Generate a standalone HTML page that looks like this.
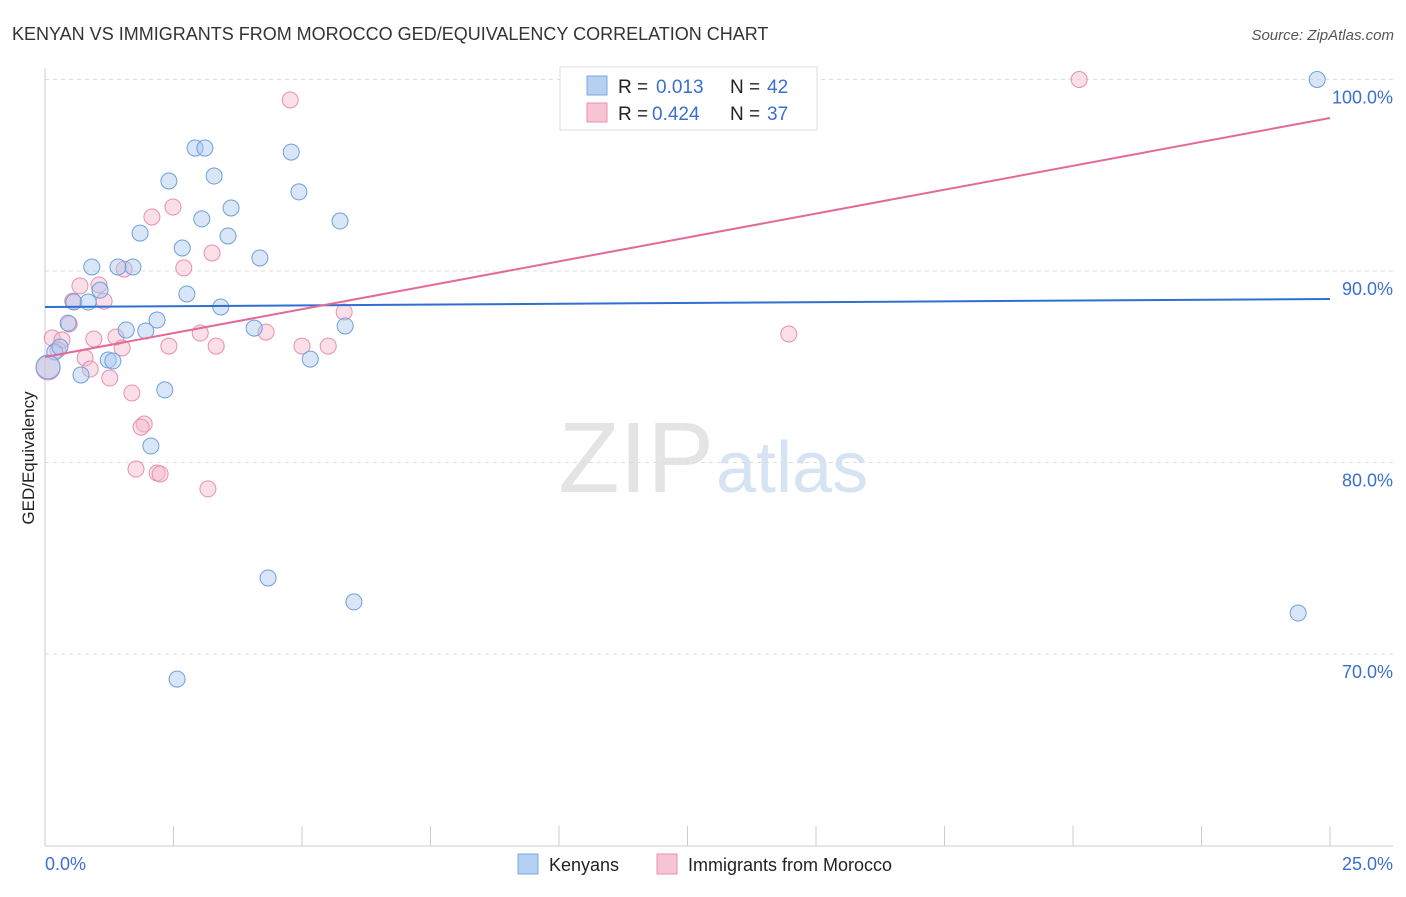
<!DOCTYPE html>
<html><head><meta charset="utf-8">
<style>
body{margin:0;background:#fff;font-family:"Liberation Sans",sans-serif;}
svg text{font-family:"Liberation Sans",sans-serif;}
</style></head>
<body>
<svg id="chart" width="1406" height="892" xmlns="http://www.w3.org/2000/svg">
<text x="12" y="40" font-size="18" fill="#333">KENYAN VS IMMIGRANTS FROM MOROCCO GED/EQUIVALENCY CORRELATION CHART</text>
<text x="1394" y="40" font-size="15" fill="#555" font-style="italic" text-anchor="end">Source: ZipAtlas.com</text>
<text x="714" y="492" font-size="100" fill="#e4e4e4" font-family="Liberation Serif" text-anchor="end">ZIP</text>
<text x="716" y="492" font-size="72" fill="#d6e3f3">atlas</text>
<g id="grid"></g>
<g id="axes"></g>
<g id="marks"></g>
<text transform="translate(34,458) rotate(-90)" font-size="17" fill="#222" text-anchor="middle">GED/Equivalency</text>
<g>
<rect x="560" y="67" width="257" height="63" fill="#fff" stroke="#ddd"/>
<rect x="587" y="76" width="20" height="19" fill="#b6d0f2" stroke="#7aa8e0"/>
<text x="618" y="93" font-size="19" fill="#222">R = </text><text x="656" y="93" font-size="19" fill="#3b6fcf">0.013</text>
<text x="730" y="93" font-size="19" fill="#222">N = </text><text x="767" y="93" font-size="19" fill="#3b6fcf">42</text>
<rect x="587" y="103" width="20" height="19" fill="#f8c4d4" stroke="#e890ae"/>
<text x="618" y="120" font-size="19" fill="#222">R = </text><text x="652" y="120" font-size="19" fill="#3b6fcf">0.424</text>
<text x="730" y="120" font-size="19" fill="#222">N = </text><text x="767" y="120" font-size="19" fill="#3b6fcf">37</text>
</g>
<g>
<rect x="518" y="854" width="20" height="20" fill="#b6d0f2" stroke="#7aa8e0"/>
<text x="549" y="871" font-size="18" fill="#222">Kenyans</text>
<rect x="657" y="854" width="20" height="20" fill="#f8c4d4" stroke="#e890ae"/>
<text x="688" y="871" font-size="18" fill="#222">Immigrants from Morocco</text>
</g>
</svg>
<script>
const yTicks=[100,90,80,70];
const yTickLabels=["100.0%","90.0%","80.0%","70.0%"];
const xTicks=[0,2.5,5,7.5,10,12.5,15,17.5,20,22.5,25];
const xTickLabels=["0.0%","25.0%"];
const blueX=[10.35,24.75,2.92,3.11,4.79,2.41,3.29,4.94,3.62,3.05,5.74,1.85,3.56,2.67,4.18,0.91,1.71,1.42,2.76,1.07,0.56,0.84,3.42,0.45,2.18,1.58,1.96,4.07,5.84,0.19,0.29,1.23,1.32,5.16,0.70,0.06,2.33,2.06,4.34,6.01,24.38,2.57];
const blueY=[100,100,96.42,96.42,96.21,94.70,94.96,94.13,93.29,92.72,92.61,91.98,91.83,91.20,90.68,90.21,90.21,90.21,88.80,89.0,88.38,88.38,88.12,87.28,87.44,86.92,86.87,87.02,87.13,85.77,86.03,85.35,85.30,85.40,84.57,84.99,83.79,80.86,73.97,72.72,72.14,68.69];
const pinkX=[20.12,4.77,2.49,2.08,3.25,2.70,1.54,0.68,1.05,1.15,0.54,0.47,5.82,0.14,0.33,0.95,1.38,3.02,4.30,14.47,2.41,3.33,5.00,5.51,1.50,0.78,0.88,1.26,1.69,1.93,1.87,1.77,2.18,2.24,3.17,0.06,0.25];
const pinkY=[100,98.93,93.34,92.82,90.94,90.16,90.10,89.22,89.27,88.43,88.43,87.23,87.86,86.50,86.40,86.45,86.55,86.76,86.81,86.71,86.08,86.08,86.08,86.08,85.98,85.46,84.88,84.41,83.63,82.01,81.85,79.66,79.45,79.40,78.62,84.94,85.88];
const blueTrend=[88.12,88.54];
const pinkTrend=[85.51,97.99];
const NS="http://www.w3.org/2000/svg";
const X0=45,X1=1330,YT=79.5,PX=19.15;
function sx(v){return X0+(v/25)*(X1-X0);}
function sy(v){return YT+(100-v)*PX;}
function mk(tag,attrs,parent){const e=document.createElementNS(NS,tag);for(const k in attrs)e.setAttribute(k,attrs[k]);parent.appendChild(e);return e;}
const grid=document.getElementById('grid'),axes=document.getElementById('axes'),marks=document.getElementById('marks');
yTicks.forEach((t,i)=>{
 const l=mk('line',{x1:X0,x2:1393,y1:sy(t),y2:sy(t),stroke:'#ddd','stroke-dasharray':'4,4'},grid);
 
 
 const tx=mk('text',{x:1393,y:sy(t)+24,'font-size':18,fill:'#3b6fcf','text-anchor':'end'},axes);
 tx.textContent=yTickLabels[i];
 
 
});
const ya=mk('line',{x1:X0,x2:X0,y1:68,y2:846,stroke:'#ccc'},axes);


const xa=mk('line',{x1:X0,x2:1393,y1:846,y2:846,stroke:'#ccc'},axes);


xTicks.forEach(t=>{const l=mk('line',{x1:sx(t),x2:sx(t),y1:826,y2:846,stroke:'#ccc'},axes);
 
 });
const xl0=mk('text',{x:45,y:870,'font-size':18,fill:'#3b6fcf'},axes);xl0.textContent=xTickLabels[0];


const xl1=mk('text',{x:1393,y:870,'font-size':18,fill:'#3b6fcf','text-anchor':'end'},axes);xl1.textContent=xTickLabels[1];


function dots(xs,ys,fill,stroke,name){xs.forEach((x,i)=>{const big=x<0.1;
 const c=mk('circle',{cx:sx(x),cy:sy(ys[i]),r:big?12:8,fill:fill,'fill-opacity':0.45,stroke:stroke,'stroke-width':1},marks);
 
 });}
dots(pinkX,pinkY,'#f5b8cc','#e890ae','morocco-point');
dots(blueX,blueY,'#a9c8f0','#6f9fdc','kenyan-point');
const bl=mk('line',{x1:sx(0),x2:sx(25),y1:sy(blueTrend[0]),y2:sy(blueTrend[1]),stroke:'#2f6fd0','stroke-width':2},marks);


const pl=mk('line',{x1:sx(0),x2:sx(25),y1:sy(pinkTrend[0]),y2:sy(pinkTrend[1]),stroke:'#e26a98','stroke-width':2},marks);


</script>
</body></html>
